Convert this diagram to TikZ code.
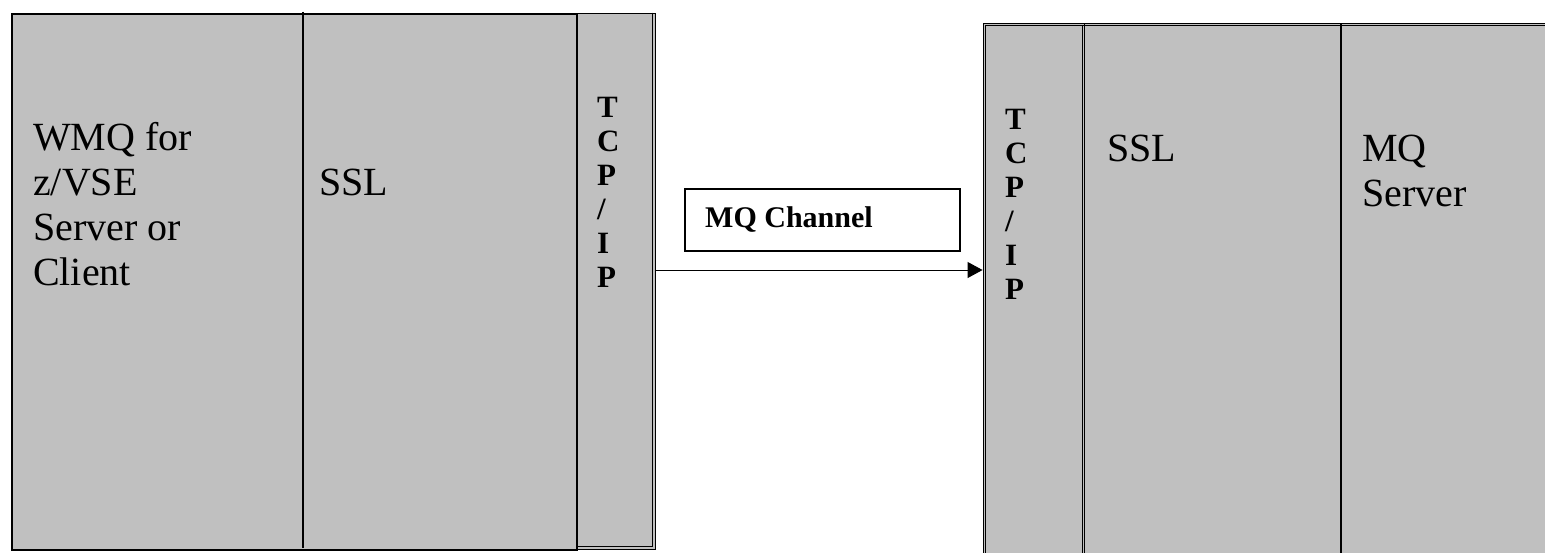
\documentclass[tikz,border=0pt]{standalone}
\usepackage{fontspec}
\setmainfont{Liberation Serif}
\usepackage{tikz}
\usetikzlibrary{arrows.meta, positioning}

\definecolor{layergray}{RGB}{192,192,192}
\tikzset{
  layer/.style={draw, fill=layergray, line width=1.2pt, inner sep=0pt},
  thinline/.style={line width=0.9pt},
  bigtxt/.style={anchor=base west, inner sep=0pt, align=left, font=\fontsize{40}{45}\selectfont},
  tcptxt/.style={anchor=base west, inner sep=0pt, align=left, font=\bfseries\fontsize{31}{34}\selectfont},
}

\begin{document}
\begin{tikzpicture}[x=1pt,y=-1pt]
\useasboundingbox (0,0) rectangle (1545,552);
\fill[white] (0,0) rectangle (1545,552);
\clip (0,0) rectangle (1545,552);

% z/VSE side
\node[layer, minimum width=565, minimum height=536] (client) at (294.5,282) {};
\draw[line width=1.2pt] (303,11.5) -- (303,548);
\node[layer, thinline, minimum width=78, minimum height=536] (tcpL) at (616,281) {};
\draw[thinline] ([shift={(-2.6,0)}]tcpL.north east) -- ([shift={(-2.6,-2.6)}]tcpL.south east) -- ([shift={(0,-2.6)}]tcpL.south west);

\node[bigtxt] (clienttext) at (33,285) {WMQ for\\z/VSE\\Server or\\Client};
\node[bigtxt] (sslLtext) at (319,195) {SSL};
\node[tcptxt] (tcpLtext) at (597,287) {T\\C\\P\\/\\I\\P};

% MQ side
\node[layer, thinline, minimum width=640, minimum height=580] (server) at (1303,313) {};
\node[layer, thinline, minimum width=101.5, minimum height=580] (tcpR) at (1033.75,313) {};
\draw[thinline] ([shift={(2.6,2.6)}]server.north west) rectangle ([shift={(-2.6,-2.6)}]server.south east);
\draw[thinline] ([shift={(2.6,2.6)}]tcpR.north west) rectangle ([shift={(-2.6,-2.6)}]tcpR.south east);
\draw[line width=1.2pt] (1341,24) -- (1341,560);

\node[tcptxt] (tcpRtext) at (1005,299) {T\\C\\P\\/\\I\\P};
\node[bigtxt] (sslRtext) at (1107,161) {SSL};
\node[bigtxt] (servertext) at (1362,206) {MQ\\Server};

% channel
\node[draw, line width=1.2pt, minimum width=275, minimum height=62] (chan) at (822.5,220) {};
\node[anchor=base west, inner sep=0pt, font=\bfseries\fontsize{30}{36}\selectfont] (chantext) at (705,227) {MQ Channel};
\draw[-{Triangle[length=15pt,width=16pt]}, line width=1pt] (tcpL.east |- 0,270) -- (tcpR.west |- 0,270);
\end{tikzpicture}
\end{document}
